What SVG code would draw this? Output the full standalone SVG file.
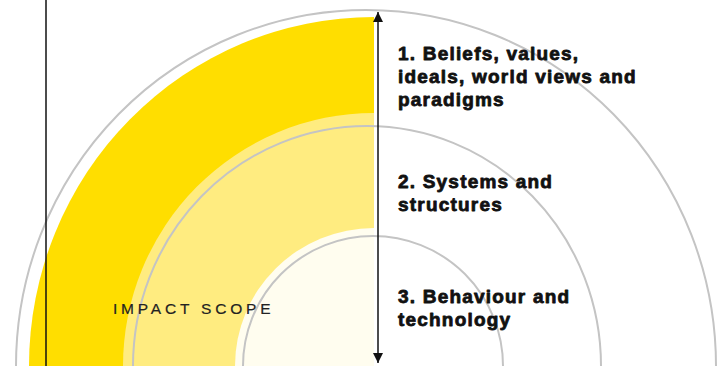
<svg xmlns="http://www.w3.org/2000/svg" width="717" height="366" viewBox="0 0 717 366">
<style>
.ring{fill:none;stroke:#c4c4c4;stroke-width:2}
.lbl{font-family:"Liberation Sans",Arial,sans-serif;font-weight:bold;font-size:19px;letter-spacing:1.2px;fill:#111;stroke:#111;stroke-width:0.8;stroke-linejoin:round}
.scope{font-family:"Liberation Sans",Arial,sans-serif;font-size:15.5px;letter-spacing:3.8px;fill:#222;stroke:#222;stroke-width:0.2}
</style>
<defs>
<marker id="ah" viewBox="0 0 10 10" refX="10" refY="5" markerWidth="10" markerHeight="10" markerUnits="userSpaceOnUse" orient="auto-start-reverse">
<path d="M0,0 L10,5 L0,10 Z" fill="#111"/>
</marker>
</defs>
<rect width="717" height="366" fill="#fff"/>
<g id="layer1">
<path d="M374,366 L374,17 A345,349 0 0 0 29,366 Z" fill="#ffde00"/>
<ellipse class="ring" cx="366" cy="366" rx="350" ry="356"/>
</g>
<g id="layer2">
<path d="M374,366 L374,113 A251,253 0 0 0 123,366 Z" fill="#ffec80"/>
<ellipse class="ring" cx="367" cy="366" rx="234" ry="240"/>
</g>
<g id="layer3">
<path d="M374,366 L374,228 A139,138 0 0 0 235,366 Z" fill="#fffdef"/>
<ellipse class="ring" cx="373" cy="366" rx="130" ry="130"/>
</g>
<g id="connectors">
<line x1="46" y1="0" x2="46" y2="366" stroke="#111" stroke-width="1.5"/>
<line x1="378" y1="12" x2="378" y2="363" stroke="#111" stroke-width="1.5" marker-start="url(#ah)" marker-end="url(#ah)"/>
</g>
<g id="label1">
<text class="lbl" x="398" y="60">1. Beliefs, values,</text>
<text class="lbl" x="398" y="83">ideals, world views and</text>
<text class="lbl" x="398" y="106">paradigms</text>
</g>
<g id="label2">
<text class="lbl" x="398" y="188">2. Systems and</text>
<text class="lbl" x="398" y="211">structures</text>
</g>
<g id="label3">
<text class="lbl" x="398" y="303">3. Behaviour and</text>
<text class="lbl" x="398" y="326">technology</text>
</g>
<g id="scope">
<text class="scope" x="113" y="314">IMPACT SCOPE</text>
</g>
</svg>
